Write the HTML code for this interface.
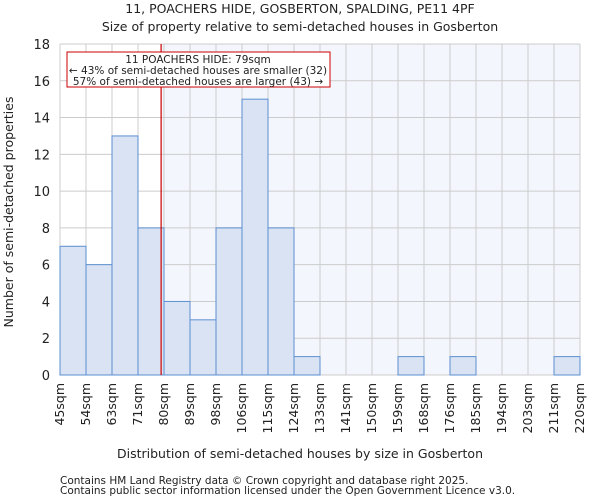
<!DOCTYPE html>
<html><head><meta charset="utf-8"><style>
body{margin:0;background:#fff;font-family:"DejaVu Sans","Liberation Sans",sans-serif}
text{font-family:"DejaVu Sans","Liberation Sans",sans-serif;fill:#222}
</style></head><body>
<svg id="chart" width="600" height="500" xmlns="http://www.w3.org/2000/svg">
<text x="300" y="13" text-anchor="middle" font-size="12.5">11, POACHERS HIDE, GOSBERTON, SPALDING, PE11 4PF</text>
<text x="300" y="31" text-anchor="middle" font-size="12.5">Size of property relative to semi-detached houses in Gosberton</text>
<g id="plot"></g>
<text x="300" y="458" text-anchor="middle" font-size="12.5">Distribution of semi-detached houses by size in Gosberton</text>
<text transform="translate(13,212) rotate(-90)" text-anchor="middle" font-size="12.5">Number of semi-detached properties</text>
<text x="60" y="484" font-size="10.5" fill="#444">Contains HM Land Registry data © Crown copyright and database right 2025.</text>
<text x="60" y="494" font-size="10.5" fill="#444">Contains public sector information licensed under the Open Government Licence v3.0.</text>
</svg>
<script>
const binLabels=["45sqm","54sqm","63sqm","71sqm","80sqm","89sqm","98sqm","106sqm","115sqm","124sqm","133sqm","141sqm","150sqm","159sqm","168sqm","176sqm","185sqm","194sqm","203sqm","211sqm","220sqm"];
const counts=[7,6,13,8,4,3,8,15,8,1,0,0,0,1,0,1,0,0,0,1];
const yTicks=[0,2,4,6,8,10,12,14,16,18];
const subjectSize=79;
const subjectBinPos=3+8/9;
const NS="http://www.w3.org/2000/svg";
const L=60,R=580,T=44,B=375,yMax=18;
const n=counts.length,bw=(R-L)/n;
const xPos=i=>L+i*bw;
const yPos=v=>B-(v/yMax)*(B-T);
const g=document.getElementById('plot');
function mk(tag,attrs){const e=document.createElementNS(NS,tag);for(const k in attrs)e.setAttribute(k,attrs[k]);g.appendChild(e);return e;}
const rx=xPos(subjectBinPos);
let e=mk('rect',{x:rx,y:T,width:R-rx,height:B-T,fill:'#f4f6fd'});


for(let i=0;i<=n;i++){e=mk('line',{x1:xPos(i),x2:xPos(i),y1:T,y2:B,stroke:'#cccccc','stroke-width':1});

}
yTicks.forEach(v=>{e=mk('line',{x1:L,x2:R,y1:yPos(v),y2:yPos(v),stroke:'#cccccc','stroke-width':1});


e=mk('text',{x:L-10,y:yPos(v)+5,'text-anchor':'end','font-size':'13'});e.textContent=v;

});
counts.forEach((c,i)=>{if(c<=0)return;e=mk('rect',{x:xPos(i),y:yPos(c),width:bw,height:B-yPos(c),fill:'#dae3f3',stroke:'#5b8fd0','stroke-width':1});

});
binLabels.forEach((l,i)=>{const x=xPos(i)+4;e=mk('text',{x:x,y:B+8,'text-anchor':'end','font-size':'12.5',transform:`rotate(-90,${x},${B+8})`});e.textContent=l;

});
e=mk('line',{x1:rx,x2:rx,y1:T,y2:B,stroke:'#cc0000','stroke-width':1.2});


e=mk('rect',{x:67,y:52,width:263,height:35,fill:'#fff',stroke:'#cc0000','stroke-width':1});


const lines=["11 POACHERS HIDE: "+subjectSize+"sqm","← 43% of semi-detached houses are smaller (32)","57% of semi-detached houses are larger (43) →"];
lines.forEach((t,k)=>{e=mk('text',{x:198,y:63+k*11,'text-anchor':'middle','font-size':'10.5'});e.textContent=t;

});
</script>
</body></html>
